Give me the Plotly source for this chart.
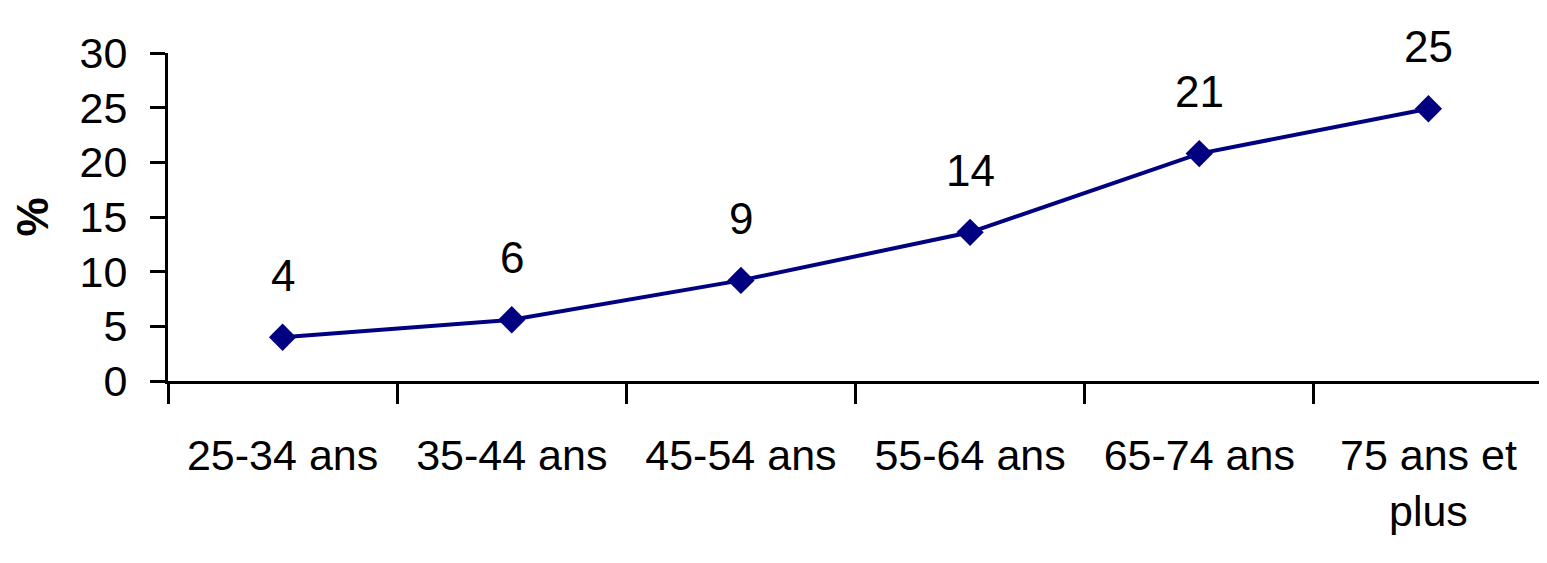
import plotly.graph_objects as go

categories = ["25-34 ans", "35-44 ans", "45-54 ans", "55-64 ans", "65-74 ans", "75 ans et<br>plus"]
values = [4.0, 5.6, 9.2, 13.6, 20.8, 24.9]
labels = ["4", "6", "9", "14", "21", "25"]
y_ticks = [0, 5, 10, 15, 20, 25, 30]

FONT = "Liberation Sans Narrow, Arial Narrow, Liberation Sans, sans-serif"
NAVY = "#000080"

fig = go.Figure()
fig.add_trace(go.Scatter(
    x=categories, y=values, mode="lines+markers",
    line=dict(color=NAVY, width=4),
    marker=dict(symbol="diamond", size=21, color=NAVY),
    hoverinfo="skip", showlegend=False,
))

for c, v, t in zip(categories, values, labels):
    fig.add_annotation(x=c, y=v, text=t, showarrow=False, yshift=62,
                       yanchor="middle", xanchor="center",
                       font=dict(family=FONT, size=44, color="black"))

fig.update_layout(
    width=1547, height=563,
    margin=dict(l=160, r=12, t=45, b=190, autoexpand=False),
    paper_bgcolor="white", plot_bgcolor="white",
    font=dict(family=FONT, size=42, color="black"),
)
fig.update_xaxes(
    type="category", range=[-0.5, 5.5], automargin=False,
    showline=True, linecolor="black", linewidth=3,
    ticks="outside", ticklen=20, tickwidth=2.5, tickcolor="black",
    tickson="boundaries", showgrid=False, zeroline=False,
    ticklabelstandoff=34, tickfont=dict(family=FONT, size=43),
)
fig.update_yaxes(
    range=[0, 30], tickvals=y_ticks, automargin=False,
    showline=True, linecolor="black", linewidth=3,
    ticks="outside", ticklen=15, tickwidth=3, tickcolor="black",
    showgrid=False, zeroline=False,
    ticklabelstandoff=14, tickfont=dict(family=FONT, size=43),
    title=dict(text="<b>%</b>", font=dict(family=FONT, size=44), standoff=44),
)

fig.write_html("out.html")
